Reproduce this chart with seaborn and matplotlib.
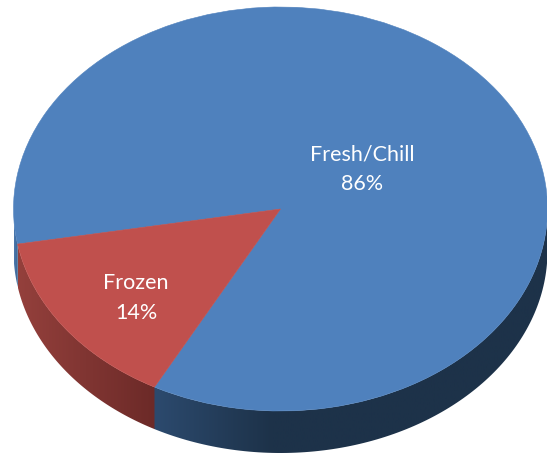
import numpy as np
import seaborn as sns
import matplotlib
matplotlib.use("Agg")
import matplotlib.pyplot as plt
from matplotlib.patches import Polygon
from matplotlib.colors import LinearSegmentedColormap

categories = ["Frozen", "Fresh/Chill"]
shares = [14.4, 85.6]
top_colors = ["#C0504D", "#4F81BD"]
wall_red = ["#94403C", "#6C2A28"]
wall_blue = [(0.0, "#2C4A6E"), (0.3, "#1D3249"), (1.0, "#1D3249")]
wall_sliver = ["#4A78AE", "#3A5F8A"]

sns.set_theme(style="white")
plt.rcParams["font.family"] = ["Lato", "DejaVu Sans"]

W, H = 547, 454
fig = plt.figure(figsize=(W / 100, H / 100), dpi=100)
ax = fig.add_axes([0, 0, 1, 1])

cx, cy, rx, ry, depth = 280.5, 209.0, 267.0, 202.0, 42.0
xlim = (-cx / rx, (W - cx) / rx)
ylim = ((cy - H) / ry, cy / ry)
d = depth / ry
start = 190.0

wedges, _ = ax.pie(shares, colors=top_colors, startangle=start, counterclock=True,
                   radius=1, normalize=True)
for w, c, z in zip(wedges, top_colors, [4, 3]):
    w.set_zorder(z)
    w.set_edgecolor(c)
    w.set_linewidth(0.4)

a_split = start + 360 * shares[0] / sum(shares)


def wall(a0, a1, stops, x0, x1, z=2):
    t = np.radians(np.linspace(a0, a1, 120))
    xs, ys = np.cos(t), np.sin(t)
    pts = np.r_[np.c_[xs, ys], np.c_[xs, ys - d][::-1]]
    poly = Polygon(pts, closed=True, transform=ax.transData, facecolor="none", edgecolor="none")
    ax.add_patch(poly)
    cmap = LinearSegmentedColormap.from_list("w", stops)
    im = ax.imshow(np.linspace(0, 1, 256)[None, :], cmap=cmap, aspect="auto",
                   extent=(x0, x1, -1.5, 0.5), zorder=z)
    im.set_clip_path(poly)


wall(a_split - 0.5, 360, wall_blue, np.cos(np.radians(a_split)), 1.0, z=1)
wall(start, a_split, wall_red, np.cos(np.radians(start)), np.cos(np.radians(a_split)), z=2)
wall(180, start + 0.3, wall_sliver, -1.0, np.cos(np.radians(start)), z=1)

ax.set_aspect("auto")
ax.set_xlim(*xlim)
ax.set_ylim(*ylim)
ax.axis("off")


def place(px, py):
    return (px - cx) / rx, (cy - py) / ry


fs = 15.5
for name, share, (px, py) in zip(categories, shares, [(136, 298), (362, 169)]):
    x, y = place(px, py)
    ax.text(x, y, f"{name}\n{share:.0f}%", color="white", fontsize=fs, ha="center", va="center",
            linespacing=1.62, zorder=5)

fig.savefig("out.png", dpi=100)
